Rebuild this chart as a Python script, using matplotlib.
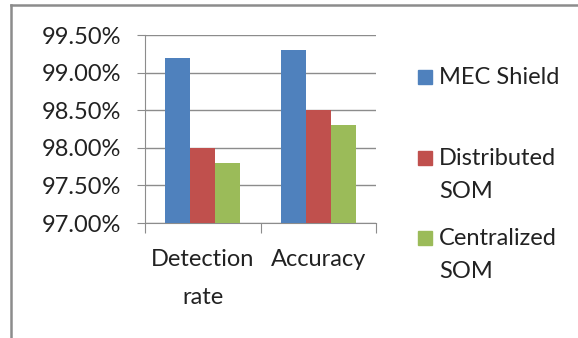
import matplotlib

matplotlib.use("Agg")
import matplotlib.pyplot as plt
from matplotlib.lines import Line2D
from matplotlib.patches import Rectangle
import numpy as np

categories = ["Detection\nrate", "Accuracy"]
series = ["MEC Shield", "Distributed\nSOM", "Centralized\nSOM"]
mec_shield = [99.2, 99.3]
distributed_som = [98.0, 98.5]
centralized_som = [97.8, 98.3]
yticks = [97.0, 97.5, 98.0, 98.5, 99.0, 99.5]
colors = ["#4f81bd", "#c0504d", "#9bbb59"]

plt.rcParams["font.family"] = ["Lato", "DejaVu Sans"]

W, H = 578, 338
FS = 17
fig = plt.figure(figsize=(W / 100, H / 100), dpi=100)

# outer chart border (top + left edges are visible in the crop)
fig.add_artist(Line2D([11 / W, 11 / W], [0, 1 - 5 / H], color="#8c8c8c", lw=1.8))
fig.add_artist(Line2D([11 / W, 1], [1 - 5 / H, 1 - 5 / H], color="#8c8c8c", lw=1.8))

ax = fig.add_axes([145 / W, 1 - 223 / H, (376 - 145) / W, (223 - 35) / H])
x = np.arange(len(categories))
bw = 0.217
for i, (vals, c) in enumerate(zip([mec_shield, distributed_som, centralized_som], colors)):
    ax.bar(x + (i - 1) * bw, np.array(vals) - 97.0, bw, bottom=97.0, color=c, zorder=3)

ax.set_xlim(-0.5, 1.5)
ax.set_ylim(97.0, 99.5)
ax.set_yticks(yticks)
ax.set_yticklabels([f"{v:.2f}%" for v in yticks], fontsize=FS, color="#222222")
ax.yaxis.grid(True, color="#8c8c8c", lw=1.0, zorder=0)
ax.set_xticks([-0.5, 0.5, 1.5])
ax.set_xticklabels([])
ax.set_xticks(x, minor=True)
ax.set_xticklabels(categories, minor=True, fontsize=FS, color="#222222", linespacing=2.0)
ax.tick_params(axis="x", which="minor", length=0, pad=19)
ax.tick_params(axis="x", which="major", length=7, color="#8c8c8c")
ax.tick_params(axis="y", length=6, color="#8c8c8c", pad=11)
for s in ["top", "right"]:
    ax.spines[s].set_visible(False)
for s in ["left", "bottom"]:
    ax.spines[s].set_color("#8c8c8c")

# legend drawn by hand to match the wide spacing of the original
leg_y = [77, 175, 255]
for lab, c, yy in zip(series, colors, leg_y):
    n = lab.count("\n")
    sq_y = yy - 17 * n
    fig.add_artist(Rectangle((418 / W, 1 - (sq_y + 7) / H), 14 / W, 14 / H, color=c))
    fig.text(439 / W, 1 - yy / H, lab, fontsize=FS, color="#222222",
             va="center", ha="left", linespacing=1.7)

fig.savefig("out.png", dpi=100)
